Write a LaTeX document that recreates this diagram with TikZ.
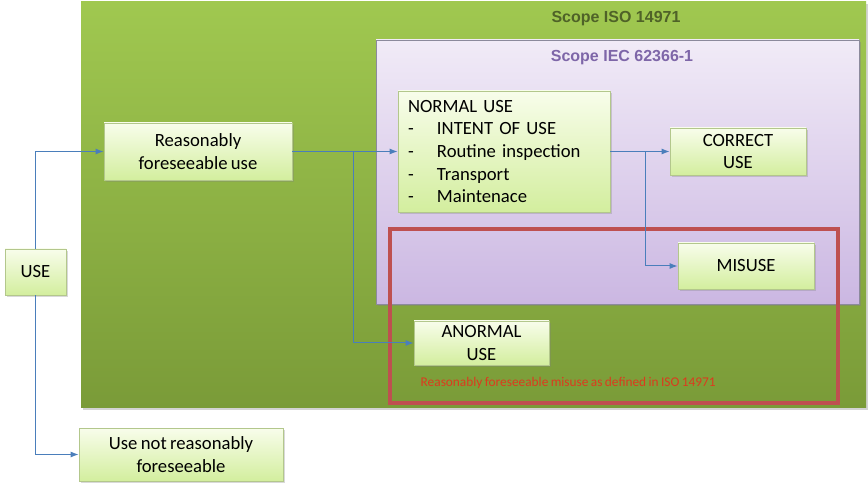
\documentclass[tikz,border=0pt]{standalone}
\usepackage{fontspec}
\setmainfont{Carlito}[WordSpace=0.8]
\newfontfamily\titlefont{Liberation Sans}
\usepackage{tikz}
\usetikzlibrary{arrows.meta}
\usetikzlibrary{shadows}
\definecolor{isotop}{HTML}{A0C850}
\definecolor{isobottom}{HTML}{7A9B38}
\definecolor{iectop}{HTML}{F1EBF7}
\definecolor{iecbottom}{HTML}{CBB7E2}
\definecolor{iecedge}{HTML}{8C8A9C}
\definecolor{boxtop}{HTML}{F8FDEB}
\definecolor{boxbottom}{HTML}{D3EE9E}
\definecolor{boxedge}{HTML}{B3C78C}
\definecolor{flowblue}{HTML}{4A7EBB}
\definecolor{isotext}{HTML}{4F6228}
\definecolor{iectext}{HTML}{7E66A8}
\definecolor{misusered}{HTML}{BE5050}
\definecolor{notered}{HTML}{DC3A1E}
\tikzset{
    usebox/.style={draw=boxedge, line width=0.6pt, top color=boxtop, bottom color=boxbottom,
        drop shadow={shadow xshift=1.2pt, shadow yshift=-1.2pt, opacity=0.3},
        font=\fontsize{14}{17}\selectfont, align=center, inner sep=0pt},
    flow/.style={draw=flowblue, line width=0.75pt, -{Latex[length=6pt,width=4.5pt]}},
    scopetitle/.style={font=\titlefont\bfseries\fontsize{12}{14}\selectfont}
}
\begin{document}
\begin{tikzpicture}[x=0.75pt,y=-0.75pt]
\useasboundingbox (0,0) rectangle (868,488);
\fill[top color=isotop, bottom color=isobottom, drop shadow={shadow xshift=1.5pt, shadow yshift=-1.5pt, opacity=0.35}] (81,2) rectangle (866,408);
\node[scopetitle, text=isotext] (isotitle) at (616,19) {Scope ISO 14971};
\draw[iecedge, line width=0.6pt, top color=iectop, bottom color=iecbottom, drop shadow={shadow xshift=1.5pt, shadow yshift=-1.5pt, opacity=0.4}] (376,40) rectangle (859,304);
\node[scopetitle, text=iectext] (iectitle) at (622,58) {Scope IEC 62366-1};
\draw[misusered, line width=2.4pt] (390,229) rectangle (838,403);
\node[anchor=west, text=notered, font=\fontsize{10}{12}\selectfont] (misusenote) at (416,383) {Reasonably foreseeable misuse as defined in ISO 14971};
\foreach \x/\y/\w/\h/\n/\t in {35.5/272/45.75/34.5/use/{USE}, 198/151.5/141/42.75/reas/{Reasonably\\foreseeable use}, 181/454.5/153/39.75/notreas/{Use not reasonably\\foreseeable}, 738/151.5/102/35.25/correct/{CORRECT\\USE}, 746/266/102/34.5/misuse/{MISUSE}, 481.5/343/101.25/33/anormal/{ANORMAL\\USE}}{
    \node[usebox, minimum width=\w pt, minimum height=\h pt] (\n) at (\x,\y) {\t};
}
\node[usebox, align=left, text width=144pt, inner xsep=7.5pt, minimum height=90.75pt] (normal) at (504,151.5) {NORMAL USE\\
\makebox[21.75pt][l]{-}INTENT OF USE\\
\makebox[21.75pt][l]{-}Routine inspection\\
\makebox[21.75pt][l]{-}Transport\\
\makebox[21.75pt][l]{-}Maintenace};
\coordinate (split1) at (353,151.5);
\coordinate (split2) at (645,151.5);
\draw[flow] (use.north) |- (reas.west);
\draw[flow] (use.south) |- (notreas.west);
\draw[flow] (reas.east) -- (normal.west);
\draw[flow] (split1) |- (anormal.west);
\draw[flow] (normal.east) -- (correct.west);
\draw[flow] (split2) |- (misuse.west);
\end{tikzpicture}
\end{document}
